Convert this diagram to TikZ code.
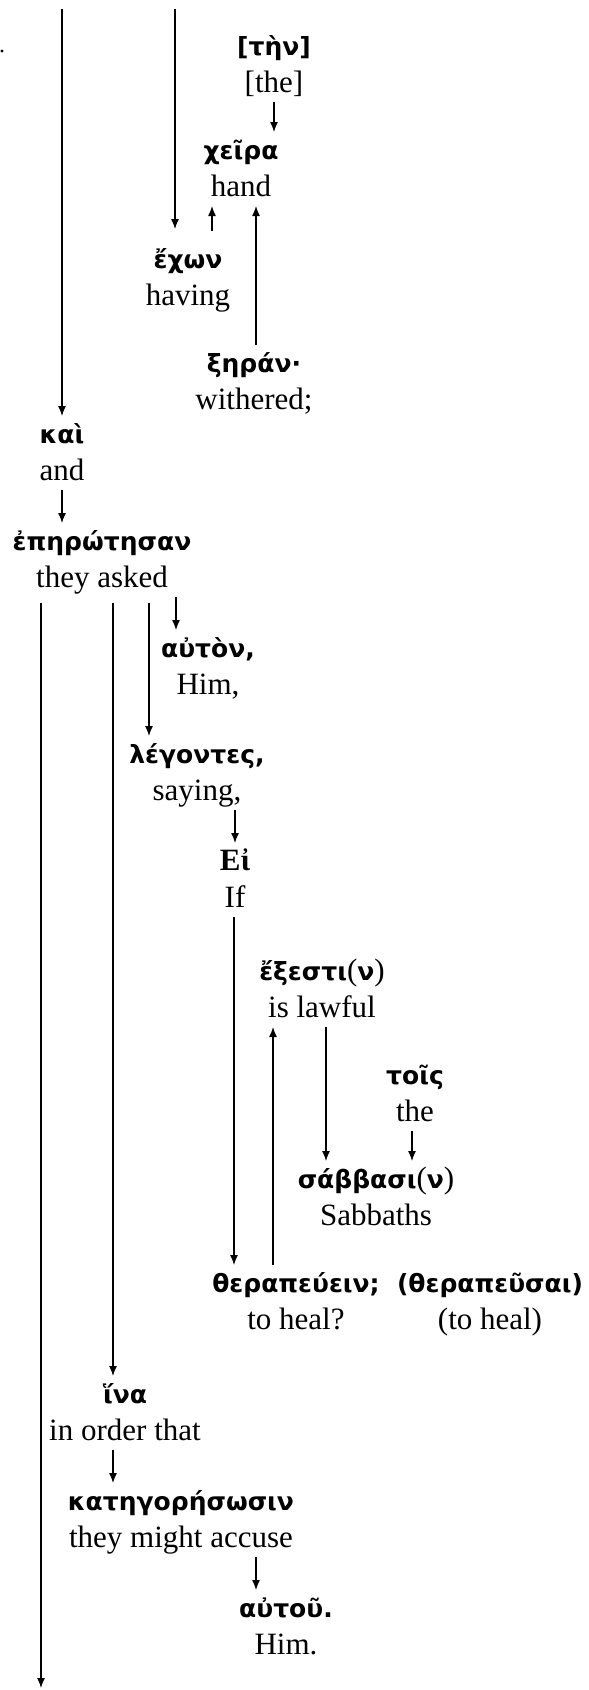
\documentclass[tikz,border=0pt]{standalone}
\usepackage{fontspec}
\setmainfont{Liberation Serif}
\newfontfamily\grkfont{DejaVu Sans}
\usetikzlibrary{arrows.meta}
\newcommand{\gk}[1]{{\grkfont\bfseries\fontsize{25}{37}\selectfont #1}}
\newcommand{\wrd}[2]{#1\rule{0pt}{26pt}\\\relax#2\rule[-9pt]{0pt}{9pt}}

\begin{document}
\begin{tikzpicture}[x=1pt, y=-1pt,
    word/.style={align=center, inner sep=0pt, outer sep=1pt,
        font=\fontsize{31}{37}\selectfont},
    arr/.style={-{Latex[length=10pt,width=8pt]}, line width=1.3pt}]
    \useasboundingbox (0,0) rectangle (589,1690);
    \fill (2,51) circle (1.6pt);

    % Words: Greek over English
    \node[word] (tin)      at (274,65)   {\wrd{\gk{[τὴν]}}{[the]}};
    \node[word] (xeira)    at (241,169)  {\wrd{\gk{χεῖρα}}{hand}};
    \node[word] (ekhon)    at (188,278)  {\wrd{\gk{ἔχων}}{having}};
    \node[word] (xeran)    at (254,382)  {\wrd{\gk{ξηράν·}}{withered;}};
    \node[word] (kai)      at (62,453)   {\wrd{\gk{καὶ}}{and}};
    \node[word] (epe)      at (102,560)  {\wrd{\gk{ἐπηρώτησαν}}{they asked}};
    \node[word] (auton)    at (208,667)  {\wrd{\gk{αὐτὸν,}}{Him,}};
    \node[word] (legontes) at (197,773)  {\wrd{\gk{λέγοντες,}}{saying,}};
    \node[word] (ei)       at (235,880)  {\wrd{\textbf{Εἰ}}{If}};
    \node[word] (exesti)   at (322,990)  {\wrd{\gk{ἔξεστι}(\gk{ν})}{is lawful}};
    \node[word] (tois)     at (415,1094) {\wrd{\gk{τοῖς}}{the}};
    \node[word] (sabb)     at (376,1198) {\wrd{\gk{σάββασι}(\gk{ν})}{Sabbaths}};
    \node[word] (ther1)    at (296,1302) {\wrd{\gk{θεραπεύειν;}}{to heal?}};
    \node[word] (ther2)    at (490,1302) {\wrd{\gk{(θεραπεῦσαι)}}{(to heal)}};
    \node[word] (hina)     at (125,1413) {\wrd{\gk{ἵνα}}{in order that}};
    \node[word] (kat)      at (181,1520) {\wrd{\gk{κατηγορήσωσιν}}{they might accuse}};
    \node[word] (autou)    at (286,1627) {\wrd{\gk{αὐτοῦ.}}{Him.}};

    % Free ends of the long lines
    \coordinate (top1) at (62,9);
    \coordinate (top2) at (175,9);
    \coordinate (bot)  at (41,1688);

    % Connectors
    \draw[arr] (top1) -- (kai.north -| top1);
    \draw[arr, shorten >=12pt] (top2) -- (ekhon.north -| top2);
    \draw[arr] (tin.south) -- (tin.south |- xeira.north);
    \draw[arr, shorten <=10pt] (ekhon.north -| 212,0) -- (xeira.south -| 212,0);
    \draw[arr] (xeran.north -| 256,0) -- (xeira.south -| 256,0);
    \draw[arr] (kai.south) -- (kai.south |- epe.north);
    \draw[arr, shorten <=6pt] (epe.south -| bot) -- (bot);
    \draw[arr, shorten <=6pt] (epe.south -| 113,0) -- (hina.north -| 113,0);
    \draw[arr, shorten <=6pt] (epe.south -| 149,0) -- (legontes.north -| 149,0);
    \draw[arr] (epe.south -| 176,0) -- (auton.north -| 176,0);
    \draw[arr] (legontes.south -| ei.north) -- (ei.north);
    \draw[arr] (ei.south -| 234,0) -- (ther1.north -| 234,0);
    \draw[arr] (ther1.north -| 273,0) -- (exesti.south -| 273,0);
    \draw[arr] (exesti.south -| 326,0) -- (sabb.north -| 326,0);
    \draw[arr] (tois.south -| 412,0) -- (sabb.north -| 412,0);
    \draw[arr] (hina.south -| 113,0) -- (kat.north -| 113,0);
    \draw[arr] (kat.south -| 256,0) -- (autou.north -| 256,0);
\end{tikzpicture}
\end{document}
